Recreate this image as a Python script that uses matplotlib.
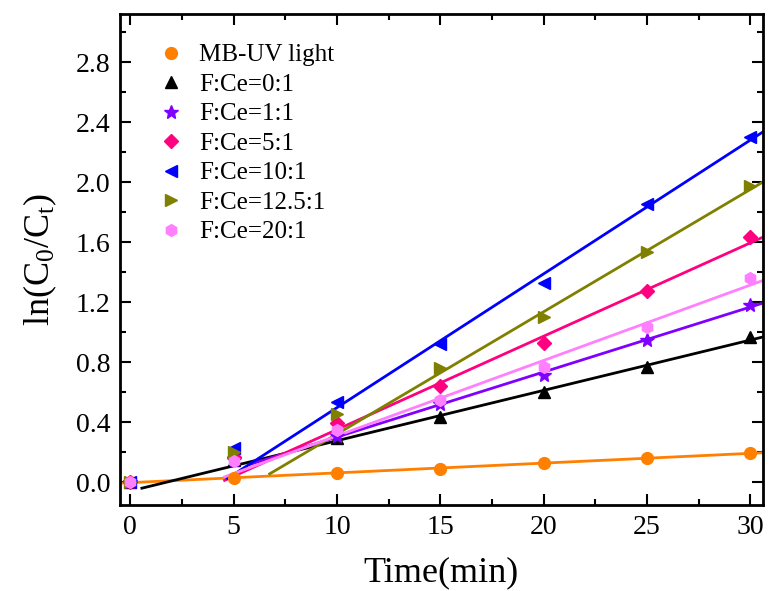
import matplotlib
matplotlib.use("Agg")
import matplotlib.pyplot as plt
import numpy as np

plt.rcParams['font.family'] = ['Liberation Serif', 'DejaVu Serif']
plt.rcParams['mathtext.fontset'] = 'custom'
plt.rcParams['mathtext.rm'] = 'Liberation Serif'
plt.rcParams['mathtext.it'] = 'Liberation Serif:italic'

# data
t = [0, 5, 10, 15, 20, 25, 30]
names = ["MB-UV light", "F:Ce=0:1", "F:Ce=1:1", "F:Ce=5:1",
         "F:Ce=10:1", "F:Ce=12.5:1", "F:Ce=20:1"]
mb_uv = [0.0, 0.03, 0.058, 0.087, 0.129, 0.158, 0.195]
fce_0 = [0.0, 0.15, 0.291, 0.435, 0.602, 0.765, 0.965]
fce_1 = [0.0, 0.15, 0.31, 0.52, 0.713, 0.947, 1.18]
fce_5 = [0.0, 0.17, 0.391, 0.64, 0.929, 1.273, 1.631]
fce_10 = [0.0, 0.23, 0.536, 0.924, 1.329, 1.853, 2.302]
fce_125 = [0.0, 0.198, 0.451, 0.758, 1.098, 1.531, 1.973]
fce_20 = [0.0, 0.142, 0.347, 0.547, 0.769, 1.031, 1.362]

series = [mb_uv, fce_0, fce_1, fce_5, fce_10, fce_125, fce_20]
colors = ['#FF8000', 'black', '#8000FF', '#FF0080', '#0000FF', '#808000', '#FF80FF']
markers = ['o', '^', '*', 'D', '<', '>', 'h']
msizes = [8.5, 8.5, 10, 7.5, 8.5, 8.5, 8.5]
fit_from = [0, 2, 2, 2, 2, 3, 2]          # first point used in the linear fit
line_start = [-0.5, 0.56, 5.77, 4.56, 4.7, 6.74, 4.56]
x_end = 30.6

fig = plt.figure(figsize=(7.69, 5.91), dpi=100)
ax = fig.add_axes([0.156, 0.1455, 0.836, 0.8305])

tt = np.array(t, dtype=float)
for y, c, f0, xs in zip(series, colors, fit_from, line_start):
    y = np.array(y)
    k, b = np.polyfit(tt[f0:], y[f0:], 1)
    xl = np.array([xs, x_end])
    ax.plot(xl, k * xl + b, '-', color=c, lw=2, zorder=2)
for y, c, m, ms, lab in zip(series, colors, markers, msizes, names):
    ax.plot(t, y, ls='none', marker=m, ms=ms, color=c, label=lab, zorder=3)

ax.set_xlim(-0.5, 30.6)
ax.set_ylim(-0.153, 3.12)
ax.set_xticks([0, 5, 10, 15, 20, 25, 30])
ax.set_yticks(np.arange(0, 2.81, 0.4))
ax.set_yticklabels(["%.1f" % v for v in np.arange(0, 2.81, 0.4)])
ax.set_xticks(np.arange(2.5, 30, 5), minor=True)
ax.set_yticks(np.arange(0.2, 3.1, 0.4), minor=True)
ax.tick_params(which='major', direction='in', length=8, width=1.5, labelsize=20,
               top=True, right=True, pad=7)
ax.tick_params(which='minor', direction='in', length=4, width=1.5, top=True, right=True)
for s in ax.spines.values():
    s.set_linewidth(2)

ax.set_xlabel("Time(min)", fontsize=26, labelpad=12)
ax.set_ylabel(r"ln(C$_\mathregular{0}$/C$_\mathregular{t}$)", fontsize=26, labelpad=12)

ax.legend(loc='upper left', bbox_to_anchor=(0.045, 0.96), frameon=False, fontsize=18,
          handlelength=1.0, handletextpad=0.6, labelspacing=0.28, borderaxespad=0)

fig.savefig("out.png", dpi=100)
